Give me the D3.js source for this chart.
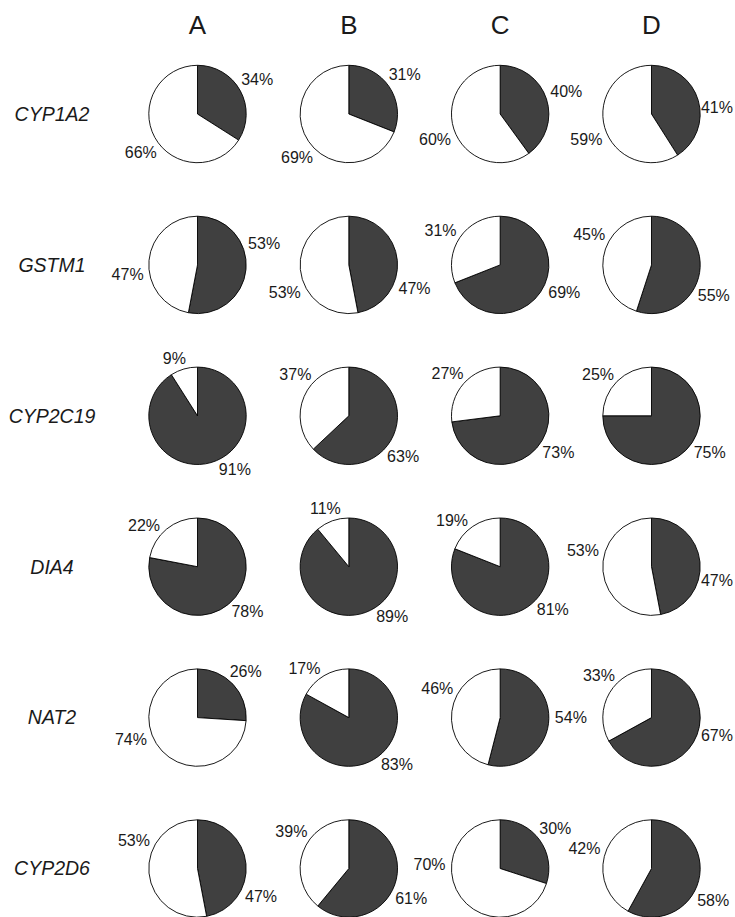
<!DOCTYPE html>
<html>
<head>
<meta charset="utf-8">
<script src="https://cdn.jsdelivr.net/npm/d3@7"></script>
<style>
  body { margin: 0; background: #fff; }
  svg { display: block; }
</style>
</head>
<body>
<svg id="chart" width="735" height="917"></svg>
<script>
// genotype frequencies, dark slice = first share (%), white = the rest
const genes = ['CYP1A2', 'GSTM1', 'CYP2C19', 'DIA4', 'NAT2', 'CYP2D6'];
const groups = ['A', 'B', 'C', 'D'];
const darkA = [34, 53, 91, 78, 26, 47];
const darkB = [31, 47, 63, 89, 83, 61];
const darkC = [40, 69, 73, 81, 54, 30];
const darkD = [41, 55, 75, 47, 67, 58];

// where the labels sit round each pie (degrees clockwise from 12 o'clock), [dark, white]
const labelA = [[60, 236], [72, 262], [145, 338], [132, 308], [46, 252], [114, 294]];
const labelB = [[55, 230], [110, 247], [127, 308], [139, 338], [134, 318], [116, 303]];
const labelC = [[71, 249], [113, 300], [122, 309], [129, 314], [90, 295], [54, 273]];
const labelD = [[85, 249], [116, 296], [122, 308], [101, 283], [105, 309], [117, 287]];

const dark = { A: darkA, B: darkB, C: darkC, D: darkD };
const labelDir = { A: labelA, B: labelB, C: labelC, D: labelD };

const width = 735;
const font = '"Liberation Sans", Arial, Helvetica, sans-serif';
const r = 48.7;

const svg = d3.select('#chart');

const x = d3.scalePoint().domain(groups).range([197.5, 651.5]);
const y = d3.scalePoint().domain(genes).range([114, 868.5]);

const pie = d3.pie().sort(null).value((d) => d);
const arc = d3.arc().innerRadius(0).outerRadius(r);

// column headers
svg.selectAll('text.col')
  .data(groups)
  .enter()
  .append('text')
  .attr('class', 'col')
  .attr('x', (d) => x(d))
  .attr('y', 34)
  .attr('text-anchor', 'middle')
  .style('font-family', font)
  .style('font-size', '26px')
  .style('fill', '#1a1a1a')
  .text((d) => d);

// row labels
svg.selectAll('text.row')
  .data(genes)
  .enter()
  .append('text')
  .attr('class', 'row')
  .attr('x', 52)
  .attr('y', (d) => y(d))
  .attr('dy', '0.35em')
  .attr('text-anchor', 'middle')
  .style('font-family', font)
  .style('font-size', '19.5px')
  .style('font-style', 'italic')
  .style('fill', '#1a1a1a')
  .text((d) => d);

// one pie per gene x group
const cells = [];
groups.forEach((g) => {
  genes.forEach((gene, i) => {
    cells.push({ group: g, gene: gene, pct: dark[g][i], dirs: labelDir[g][i] });
  });
});

const cell = svg.selectAll('g.pie')
  .data(cells)
  .enter()
  .append('g')
  .attr('class', 'pie')
  .attr('transform', (d) => `translate(${x(d.group)},${y(d.gene)})`);

cell.selectAll('path')
  .data((d) => pie([d.pct, 100 - d.pct]))
  .enter()
  .append('path')
  .attr('d', arc)
  .attr('fill', (d, i) => (i === 0 ? '#404040' : '#ffffff'))
  .attr('stroke', '#000')
  .attr('stroke-width', 0.9)
  .attr('stroke-linejoin', 'round');

// percentage labels, pushed out so the text box clears the rim
cell.each(function (d) {
  const g = d3.select(this);
  const cx = x(d.group);
  const shares = [d.pct, 100 - d.pct];
  shares.forEach((v, i) => {
    const t = g.append('text')
      .attr('text-anchor', 'middle')
      .attr('dy', '0.35em')
      .style('font-family', font)
      .style('font-size', '16px')
      .style('fill', '#1a1a1a')
      .text(v + '%');
    const w = t.node().getComputedTextLength();
    const a = d.dirs[i] * Math.PI / 180;
    const ux = Math.sin(a), uy = -Math.cos(a);
    const ext = Math.sqrt((ux * w / 2) ** 2 + (uy * 6) ** 2);
    const dist = r + 6 + ext;
    // keep it inside the page on the right
    const lx = Math.min(ux * dist, width - 2 - w / 2 - cx);
    t.attr('x', lx).attr('y', uy * dist);
  });
});
</script>
</body>
</html>
